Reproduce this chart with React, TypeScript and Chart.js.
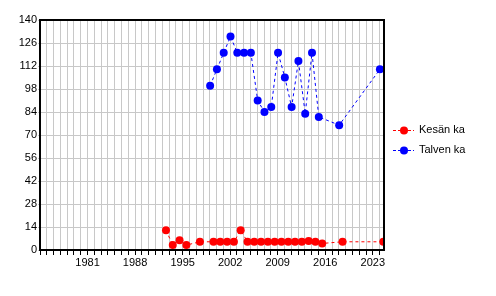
import { useEffect, useRef } from "react";
import { Chart, registerables } from "chart.js";

Chart.register(...registerables);

// ---- Data ----
const summerYears = [1992, 1993, 1994, 1995, 1997, 1999, 2000, 2001, 2002, 2003, 2004, 2005, 2006, 2007, 2008, 2009, 2010, 2011, 2012, 2013, 2014, 2015, 2018, 2024];
const summerValues = [12, 3, 6, 3, 5, 5, 5, 5, 5, 12, 5, 5, 5, 5, 5, 5, 5, 5, 5, 5.5, 5, 4, 5, 5];
const winterYears = [1999, 2000, 2001, 2002, 2003, 2004, 2005, 2006, 2007, 2008, 2009, 2010, 2011, 2012, 2013, 2014, 2015, 2018, 2024];
const winterValues = [100, 110, 120, 130, 120, 120, 120, 91, 84, 87, 120, 105, 87, 115, 83, 120, 81, 76, 110];
const seriesLabels = ["Kesän ka", "Talven ka"];
const seriesColors = ["#ff0000", "#0000ff"];
// measurement time within the year (summer ~ August, winter ~ January)
const SUMMER_OFFSET = 0.55;
const WINTER_OFFSET = 0.05;

const yTickValues = [0, 14, 28, 42, 56, 70, 84, 98, 112, 126, 140];
const xLabelYears = [1981, 1988, 1995, 2002, 2009, 2016, 2023];
const X_MIN = 1974;
const X_MAX = 2024.65;

const FONT = "'Liberation Sans', Arial, sans-serif";
const POINT_R = 4;

const framePlugin = {
  id: "frame",
  afterDatasetsDraw(chart: any) {
    const { ctx, chartArea: a } = chart;
    ctx.save();
    ctx.strokeStyle = "#000";
    ctx.lineWidth = 2;
    ctx.strokeRect(a.left, a.top, a.right - a.left, a.bottom - a.top);
    ctx.restore();
  },
};

const legendPlugin = {
  id: "customLegend",
  afterDraw(chart: any) {
    const { ctx, chartArea: a } = chart;
    ctx.save();
    chart.data.datasets.forEach((ds: any, i: number) => {
      const cy = 130 + i * 20;
      const x0 = a.right + 9;
      ctx.strokeStyle = ds.borderColor;
      ctx.lineWidth = 1;
      ctx.setLineDash([3, 2]);
      ctx.beginPath();
      ctx.moveTo(x0, cy + 0.5);
      ctx.lineTo(x0 + 21, cy + 0.5);
      ctx.stroke();
      ctx.setLineDash([]);
      ctx.fillStyle = ds.pointBackgroundColor;
      ctx.beginPath();
      ctx.arc(x0 + 11, cy + 0.5, POINT_R, 0, Math.PI * 2);
      ctx.fill();
      ctx.fillStyle = "#000";
      ctx.font = `11px ${FONT}`;
      ctx.textBaseline = "middle";
      ctx.textAlign = "left";
      ctx.fillText(ds.label, x0 + 26, cy);
    });
    ctx.restore();
  },
};

export default function App() {
  const ref = useRef<HTMLCanvasElement | null>(null);

  useEffect(() => {
    if (!ref.current) return;
    const mk = (years: number[], values: number[], off: number) =>
      years.map((y, i) => ({ x: y + off, y: values[i] }));
    const dsBase = {
      borderWidth: 1,
      borderDash: [3, 3],
      pointRadius: POINT_R,
      pointBorderWidth: 0,
      pointHoverRadius: POINT_R,
      tension: 0,
      clip: 0,
      showLine: true,
      fill: false,
    };
    const chart = new Chart(ref.current, {
      type: "line",
      data: {
        datasets: [
          {
            ...dsBase,
            label: seriesLabels[0],
            data: mk(summerYears, summerValues, SUMMER_OFFSET),
            borderColor: seriesColors[0],
            backgroundColor: seriesColors[0],
            pointBackgroundColor: seriesColors[0],
          },
          {
            ...dsBase,
            label: seriesLabels[1],
            data: mk(winterYears, winterValues, WINTER_OFFSET),
            borderColor: seriesColors[1],
            backgroundColor: seriesColors[1],
            pointBackgroundColor: seriesColors[1],
          },
        ] as any,
      },
      options: {
        animation: false,
        responsive: false,
        events: [],
        layout: { padding: { top: 20, right: 112, left: 0, bottom: 0 } },
        plugins: {
          legend: { display: false },
          tooltip: { enabled: false },
        },
        scales: {
          x: {
            type: "linear",
            min: X_MIN,
            max: X_MAX,
            afterFit: (s: any) => {
              s.height = 46;
            },
            afterBuildTicks: (s: any) => {
              const t = [];
              for (let y = X_MIN; y <= X_MAX; y++) t.push({ value: y });
              s.ticks = t;
            },
            border: { display: false },
            grid: {
              color: "#c8c8c8",
              lineWidth: 1,
              tickLength: 5,
              tickColor: "#000",
              drawTicks: true,
            },
            ticks: {
              autoSkip: false,
              maxRotation: 0,
              minRotation: 0,
              padding: 1,
              color: "#000",
              font: { family: FONT, size: 11 },
              callback: (v: any) => (xLabelYears.includes(Number(v)) ? String(v) : ""),
            },
          },
          y: {
            type: "linear",
            min: 0,
            max: 140,
            afterFit: (s: any) => {
              s.width = 40;
            },
            afterBuildTicks: (s: any) => {
              s.ticks = yTickValues.map((v) => ({ value: v }));
            },
            border: { display: false },
            grid: {
              color: "#c8c8c8",
              lineWidth: 1,
              tickLength: 2,
              drawTicks: true,
            },
            ticks: {
              padding: 1,
              color: "#000",
              font: { family: FONT, size: 11 },
            },
          },
        },
      } as any,
      plugins: [framePlugin, legendPlugin],
    });
    return () => chart.destroy();
  }, []);

  return (
    <div style={{ position: "fixed", left: 0, top: 0, width: 496, height: 296, background: "#fff" }}>
      <canvas ref={ref} width={496} height={296} />
    </div>
  );
}
